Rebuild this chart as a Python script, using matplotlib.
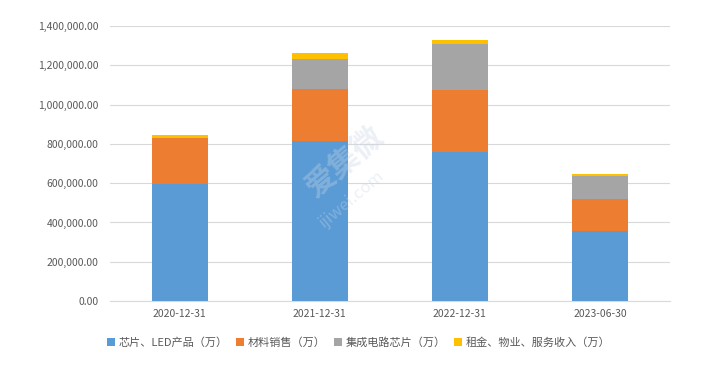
import numpy as np
import matplotlib.pyplot as plt
from matplotlib.ticker import FuncFormatter

plt.rcParams['font.family'] = ['Noto Sans CJK SC', 'DejaVu Sans']

# categories and series
dates = ['2020-12-31', '2021-12-31', '2022-12-31', '2023-06-30']
series_names = ['芯片、LED产品（万）', '材料销售（万）', '集成电路芯片（万）', '租金、物业、服务收入（万）']
chip_led = [596000, 817000, 757000, 356000]
material = [235000, 261000, 320000, 162000]
ic_chip = [0, 156000, 231000, 119000]
rent_service = [12000, 27000, 19000, 8000]
colors = ['#5B9BD5', '#ED7D31', '#A5A5A5', '#FFC000']

fig = plt.figure(figsize=(7.03, 3.68), dpi=100)
ax = fig.add_axes([0.156, 0.182, 0.797, 0.747])

x = np.arange(len(dates))
bottom = np.zeros(len(dates))
for vals, name, c in zip([chip_led, material, ic_chip, rent_service], series_names, colors):
    ax.bar(x, vals, 0.4, bottom=bottom, color=c, label=name, zorder=3)
    bottom += np.array(vals)

ax.set_xlim(-0.5, len(dates) - 0.5)
ax.set_ylim(0, 1400000)
ax.set_yticks(np.arange(0, 1400001, 200000))
ax.yaxis.set_major_formatter(FuncFormatter(lambda v, p: f'{v:,.2f}'))
ax.set_xticks(x)
ax.set_xticklabels(dates)
ax.grid(axis='y', color='#D9D9D9', linewidth=0.8, zorder=0)
for s in ['top', 'right', 'left']:
    ax.spines[s].set_visible(False)
ax.spines['bottom'].set_color('#D9D9D9')
ax.tick_params(axis='both', length=0, labelsize=7.5, colors='#595959')
ax.tick_params(axis='y', pad=8)
ax.tick_params(axis='x', pad=6)

# watermark
fig.text(0.49, 0.56, '爱集微', fontsize=22, color='#C9D6E6', alpha=0.35, rotation=40,
         ha='center', va='center', fontweight='bold', zorder=5)
fig.text(0.50, 0.46, 'ijiwei.com', fontsize=12, color='#C9D6E6', alpha=0.35, rotation=40,
         ha='center', va='center', zorder=5)

fig.legend(loc='center', bbox_to_anchor=(0.51, 0.07), ncol=4, frameon=False,
           fontsize=8, handlelength=0.7, handleheight=0.7, handletextpad=0.3,
           columnspacing=0.8, labelcolor='#595959')

plt.savefig('out.png', dpi=100)
